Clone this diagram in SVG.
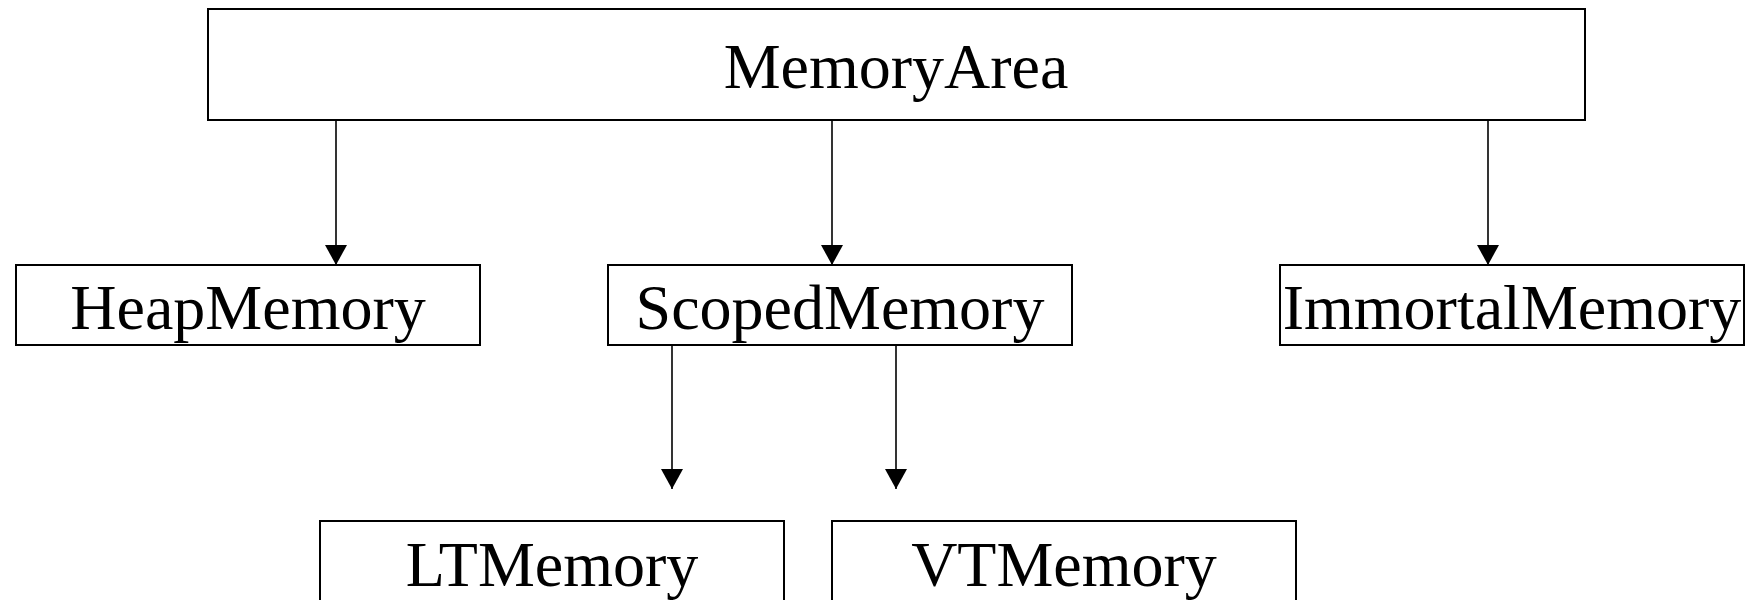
<svg xmlns="http://www.w3.org/2000/svg" width="1756" height="600" viewBox="0 0 1756 600">
<style>
.box{fill:#fff;stroke:#000;stroke-width:2}
.lbl{font-family:"Liberation Serif","Times New Roman",serif;font-size:64px;fill:#000;text-anchor:middle}
.edge{stroke:#000;stroke-width:1.6;fill:none}
</style>
<defs>
<marker id="arr" viewBox="0 0 20 22" refX="20" refY="11" markerWidth="20" markerHeight="22" markerUnits="userSpaceOnUse" orient="auto">
<path d="M0,0 L20,11 L0,22 Z" fill="#000"/>
</marker>
</defs>
<rect width="1756" height="600" fill="#fff"/>
<g id="connectors">
<line class="edge" x1="336" y1="120" x2="336" y2="265" marker-end="url(#arr)"/>
<line class="edge" x1="832" y1="120" x2="832" y2="265" marker-end="url(#arr)"/>
<line class="edge" x1="1488" y1="120" x2="1488" y2="265" marker-end="url(#arr)"/>
<line class="edge" x1="672" y1="345" x2="672" y2="489" marker-end="url(#arr)"/>
<line class="edge" x1="896" y1="345" x2="896" y2="489" marker-end="url(#arr)"/>
</g>
<g id="MemoryArea">
<rect class="box" x="208" y="9" width="1377" height="111"/>
<text class="lbl" x="896" y="88">MemoryArea</text>
</g>
<g id="HeapMemory">
<rect class="box" x="16" y="265" width="464" height="80"/>
<text class="lbl" x="248" y="329">HeapMemory</text>
</g>
<g id="ScopedMemory">
<rect class="box" x="608" y="265" width="464" height="80"/>
<text class="lbl" x="840" y="329">ScopedMemory</text>
</g>
<g id="ImmortalMemory">
<rect class="box" x="1280" y="265" width="464" height="80"/>
<text class="lbl" x="1512" y="329">ImmortalMemory</text>
</g>
<g id="LTMemory">
<rect class="box" x="320" y="521" width="464" height="100"/>
<text class="lbl" x="552" y="586">LTMemory</text>
</g>
<g id="VTMemory">
<rect class="box" x="832" y="521" width="464" height="100"/>
<text class="lbl" x="1064" y="586">VTMemory</text>
</g>
</svg>
